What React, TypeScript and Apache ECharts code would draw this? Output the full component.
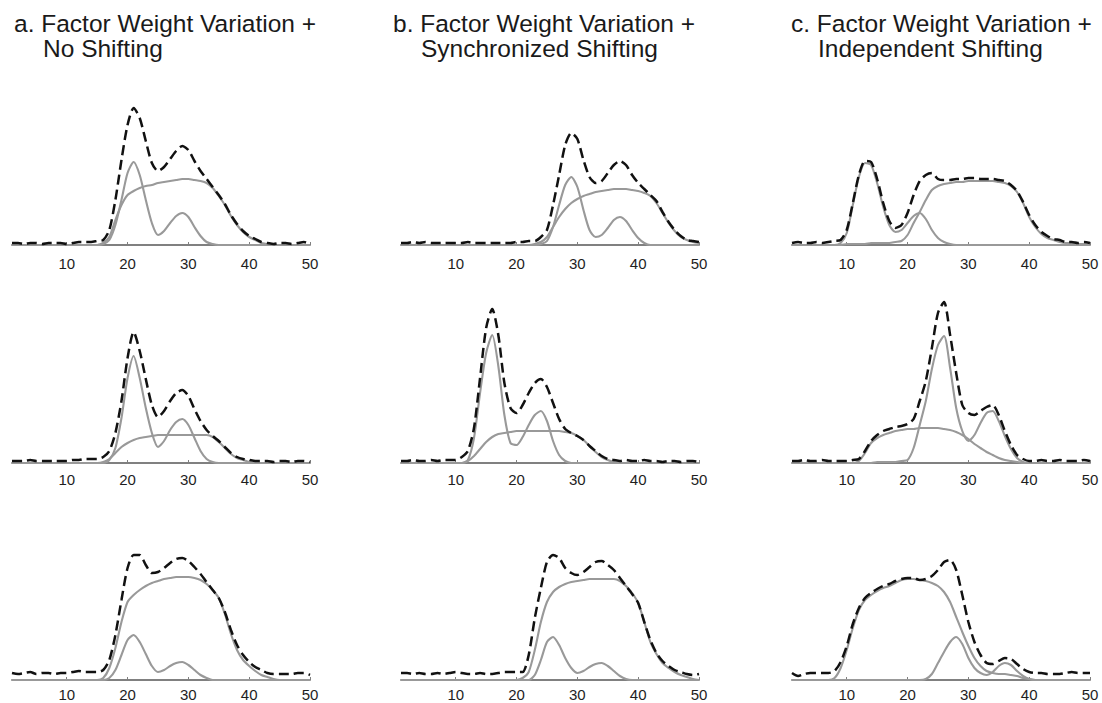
import React, { useEffect, useRef } from "react";
import * as echarts from "echarts";

// x positions (sample index) and labelled ticks
const xCategories = [1, 2, 3, 4, 5, 6, 7, 8, 9, 10, 11, 12, 13, 14, 15, 16, 17, 18, 19, 20, 21, 22, 23, 24, 25, 26, 27, 28, 29, 30, 31, 32, 33, 34, 35, 36, 37, 38, 39, 40, 41, 42, 43, 44, 45, 46, 47, 48, 49, 50];
const tickValues = [10, 20, 30, 40, 50];

// Column titles
const titleLine1 = ["a. Factor Weight Variation +", "b. Factor Weight Variation +", "c. Factor Weight Variation +"];
const titleLine2 = ["No Shifting", "Synchronized Shifting", "Independent Shifting"];

// ---- Column a: Factor weight variation + no shifting ----
const a1Peak = [0, 0, 0, 0, 0, 0, 0, 0, 0, 0, 0, 0, 0, 0, 0, 1, 5, 20, 45, 72, 83, 70, 45, 22, 10, 14, 22, 29, 32, 28, 18, 9, 3, 1, 0, 0, 0, 0, 0, 0, 0, 0, 0, 0, 0, 0, 0, 0, 0, 0];
const a1Plateau = [0, 0, 0, 0, 0, 0, 0, 0, 0, 0, 0, 0, 0, 0, 0, 2, 8, 25, 40, 50, 54, 57, 59, 60, 62, 63, 64, 65, 66, 66, 65, 64, 62, 57, 49, 40, 29, 20, 13, 8, 5, 2, 1, 0, 0, 0, 0, 0, 0, 0];
const a1Total = [2, 2, 1, 2, 2, 1, 2, 2, 2, 1, 2, 3, 3, 3, 4, 5, 15, 45, 85, 120, 137, 127, 104, 82, 74, 78, 86, 94, 99, 95, 84, 74, 66, 58, 50, 41, 30, 21, 14, 9, 6, 3, 2, 1, 2, 2, 1, 2, 3, 1];

const a2Peak = [0, 0, 0, 0, 0, 0, 0, 0, 0, 0, 0, 0, 0, 0, 0, 0, 3, 15, 45, 85, 107, 85, 55, 30, 16, 22, 33, 41, 44, 38, 25, 12, 4, 1, 0, 0, 0, 0, 0, 0, 0, 0, 0, 0, 0, 0, 0, 0, 0, 0];
const a2Plateau = [0, 0, 0, 0, 0, 0, 0, 0, 0, 0, 0, 0, 0, 0, 0, 1, 4, 10, 16, 20, 23, 25, 26, 27, 28, 28, 28, 28, 28, 28, 28, 28, 28, 26, 21, 15, 9, 5, 3, 1, 0, 0, 0, 0, 0, 0, 0, 0, 0, 0];
const a2Total = [2, 2, 2, 3, 2, 2, 2, 2, 2, 2, 3, 3, 4, 4, 4, 6, 12, 30, 62, 105, 131, 112, 84, 58, 46, 52, 62, 70, 73, 67, 54, 42, 33, 27, 22, 16, 10, 6, 4, 3, 2, 2, 2, 1, 2, 2, 1, 2, 2, 1];

const a3Peak = [0, 0, 0, 0, 0, 0, 0, 0, 0, 0, 0, 0, 0, 0, 0, 0, 2, 10, 25, 40, 45, 38, 26, 14, 8, 10, 14, 17, 18, 15, 10, 5, 2, 0, 0, 0, 0, 0, 0, 0, 0, 0, 0, 0, 0, 0, 0, 0, 0, 0];
const a3Plateau = [0, 0, 0, 0, 0, 0, 0, 0, 0, 0, 0, 0, 0, 0, 0, 2, 12, 32, 58, 78, 85, 90, 94, 97, 99, 101, 102, 103, 103, 103, 102, 100, 96, 90, 82, 66, 46, 30, 20, 14, 9, 5, 3, 1, 0, 0, 0, 0, 0, 0];
const a3Total = [7, 6, 7, 8, 6, 7, 7, 6, 7, 7, 8, 9, 8, 8, 8, 10, 20, 45, 80, 112, 125, 125, 115, 107, 108, 112, 117, 121, 122, 119, 113, 106, 98, 90, 82, 68, 50, 35, 25, 18, 13, 10, 7, 6, 6, 6, 6, 7, 7, 5];

// ---- Column b: Factor weight variation + synchronized shifting ----
const b1Peak = [0, 0, 0, 0, 0, 0, 0, 0, 0, 0, 0, 0, 0, 0, 0, 0, 0, 0, 0, 0, 0, 0, 0, 1, 4, 18, 40, 60, 68, 58, 35, 15, 8, 10, 17, 25, 28, 24, 15, 7, 2, 0, 0, 0, 0, 0, 0, 0, 0, 0];
const b1Plateau = [0, 0, 0, 0, 0, 0, 0, 0, 0, 0, 0, 0, 0, 0, 0, 0, 0, 0, 0, 0, 0, 0, 1, 3, 8, 18, 28, 36, 42, 46, 49, 51, 53, 54, 55, 56, 56, 56, 55, 54, 52, 49, 42, 32, 22, 14, 8, 5, 3, 2];
const b1Total = [2, 2, 3, 2, 3, 2, 2, 2, 2, 2, 2, 3, 2, 2, 2, 2, 2, 2, 2, 3, 3, 4, 4, 8, 15, 40, 70, 100, 112, 106, 85, 68, 62, 64, 72, 80, 84, 80, 70, 62, 56, 50, 44, 33, 23, 15, 9, 5, 4, 3];

const b2Peak = [0, 0, 0, 0, 0, 0, 0, 0, 0, 0, 0, 3, 25, 70, 110, 128, 97, 48, 20, 18, 26, 38, 48, 52, 42, 22, 8, 2, 0, 0, 0, 0, 0, 0, 0, 0, 0, 0, 0, 0, 0, 0, 0, 0, 0, 0, 0, 0, 0, 0];
const b2Plateau = [0, 0, 0, 0, 0, 0, 0, 0, 0, 0, 0, 2, 7, 14, 21, 26, 29, 30, 31, 32, 32, 32, 32, 32, 32, 32, 32, 31, 30, 27, 23, 17, 11, 6, 3, 1, 0, 0, 0, 0, 0, 0, 0, 0, 0, 0, 0, 0, 0, 0];
const b2Total = [2, 2, 3, 2, 2, 3, 2, 3, 3, 3, 6, 12, 35, 85, 135, 154, 128, 80, 55, 50, 58, 70, 80, 84, 76, 60, 44, 34, 30, 27, 23, 17, 12, 7, 4, 3, 2, 3, 2, 2, 3, 2, 2, 1, 2, 2, 1, 2, 2, 1];

const b3Peak = [0, 0, 0, 0, 0, 0, 0, 0, 0, 0, 0, 0, 0, 0, 0, 0, 0, 0, 0, 0, 0, 0, 5, 20, 38, 43, 35, 22, 12, 7, 9, 13, 16, 17, 14, 9, 4, 1, 0, 0, 0, 0, 0, 0, 0, 0, 0, 0, 0, 0];
const b3Plateau = [0, 0, 0, 0, 0, 0, 0, 0, 0, 0, 0, 0, 0, 0, 0, 0, 0, 0, 0, 0, 2, 8, 30, 58, 78, 88, 93, 96, 98, 99, 100, 101, 101, 101, 101, 101, 99, 94, 87, 77, 58, 38, 26, 17, 12, 8, 5, 3, 1, 0];
const b3Total = [7, 7, 6, 7, 6, 6, 7, 6, 7, 8, 7, 6, 6, 7, 6, 6, 7, 8, 8, 8, 8, 25, 62, 92, 118, 125, 122, 112, 107, 105, 108, 113, 118, 119, 115, 110, 102, 94, 86, 77, 58, 40, 27, 19, 14, 10, 8, 6, 5, 6];

// ---- Column c: Factor weight variation + independent shifting ----
const c1Peak = [0, 0, 0, 0, 0, 0, 0, 0, 2, 12, 40, 68, 82, 80, 62, 38, 20, 13, 15, 22, 29, 32, 26, 15, 7, 3, 1, 0, 0, 0, 0, 0, 0, 0, 0, 0, 0, 0, 0, 0, 0, 0, 0, 0, 0, 0, 0, 0, 0, 0];
const c1Plateau = [0, 0, 0, 0, 0, 0, 0, 0, 0, 1, 1, 1, 1, 2, 2, 2, 2, 3, 4, 10, 22, 33, 45, 55, 59, 61, 62, 63, 63, 64, 64, 64, 64, 64, 63, 62, 59, 53, 42, 28, 18, 11, 7, 5, 3, 2, 2, 1, 1, 0];
const c1Total = [2, 3, 2, 2, 3, 2, 3, 4, 5, 15, 42, 70, 84, 83, 66, 42, 24, 17, 20, 32, 50, 64, 70, 72, 66, 65, 65, 66, 66, 67, 67, 66, 66, 66, 65, 64, 60, 54, 43, 30, 20, 13, 9, 6, 5, 3, 3, 2, 3, 2];

const c2Peak = [0, 0, 0, 0, 0, 0, 0, 0, 0, 0, 0, 0, 0, 0, 1, 1, 1, 1, 2, 3, 15, 38, 62, 94, 118, 127, 95, 55, 32, 22, 28, 40, 50, 52, 42, 27, 14, 5, 1, 0, 0, 0, 0, 0, 0, 0, 0, 0, 0, 0];
const c2Plateau = [0, 0, 0, 0, 0, 0, 0, 0, 0, 0, 0, 2, 10, 20, 25, 28, 30, 32, 33, 34, 34, 35, 35, 35, 35, 34, 33, 31, 28, 24, 19, 15, 11, 8, 5, 3, 2, 1, 0, 0, 0, 0, 0, 0, 0, 0, 0, 0, 0, 0];
const c2Total = [2, 2, 3, 2, 2, 3, 2, 2, 2, 2, 3, 4, 12, 22, 28, 32, 34, 36, 37, 39, 44, 62, 82, 115, 150, 161, 128, 90, 58, 50, 48, 52, 56, 58, 48, 32, 18, 8, 4, 2, 2, 3, 2, 2, 3, 2, 2, 2, 3, 2];

const c3Peak = [0, 0, 0, 0, 0, 0, 0, 0, 0, 0, 0, 0, 0, 0, 0, 0, 0, 0, 0, 0, 0, 0, 1, 6, 17, 28, 38, 43, 36, 22, 12, 7, 5, 8, 14, 17, 15, 9, 4, 1, 0, 0, 0, 0, 0, 0, 0, 0, 0, 0];
const c3Plateau = [0, 0, 0, 0, 0, 0, 0, 2, 12, 30, 52, 70, 80, 85, 89, 92, 94, 97, 100, 101, 101, 100, 99, 97, 94, 88, 78, 63, 48, 34, 22, 14, 9, 7, 6, 6, 5, 4, 2, 1, 0, 0, 0, 0, 0, 0, 0, 0, 0, 0];
const c3Total = [7, 4, 6, 7, 7, 7, 7, 9, 18, 34, 56, 72, 82, 87, 91, 94, 96, 99, 101, 102, 102, 100, 101, 104, 110, 118, 120, 110, 85, 58, 38, 25, 17, 16, 19, 22, 21, 16, 11, 8, 7, 7, 6, 6, 6, 7, 8, 7, 7, 7];

// panels listed row by row (row 1: a1,b1,c1 ...)
const panelData = [
  [a1Peak, a1Plateau, a1Total], [b1Peak, b1Plateau, b1Total], [c1Peak, c1Plateau, c1Total],
  [a2Peak, a2Plateau, a2Total], [b2Peak, b2Plateau, b2Total], [c2Peak, c2Plateau, c2Total],
  [a3Peak, a3Plateau, a3Total], [b3Peak, b3Plateau, b3Total], [c3Peak, c3Plateau, c3Total],
];

const Y_MAX = 170;

// layout (pixels)
const colLeft = [12, 401, 792];
const colTitleX = [14, 393, 791];
const colTitleIndentX = [43, 421, 818];
const rowAxisY = [245, 463, 680];
const rowLabelMargin = [11, 9, 7];
const PANEL_W = 298;
const PANEL_H = 170;
const TITLE_SIZE = 24.5;
const TITLE_Y = [23, 48];

const FONT = "'Liberation Sans', Arial, Helvetica, sans-serif";

export default function App() {
  const ref = useRef<HTMLDivElement>(null);

  useEffect(() => {
    if (!ref.current) return;
    const chart = echarts.init(ref.current, null, { renderer: "svg" });

    const isTick = (_idx: number, val: any) => tickValues.includes(Number(val));

    const grids: any[] = [];
    const xAxes: any[] = [];
    const yAxes: any[] = [];
    const series: any[] = [];

    panelData.forEach((lines, i) => {
      const r = Math.floor(i / 3);
      const c = i % 3;
      grids.push({
        left: colLeft[c],
        top: rowAxisY[r] - PANEL_H,
        width: PANEL_W,
        height: PANEL_H,
        containLabel: false,
      });
      xAxes.push({
        gridIndex: i,
        type: "category",
        data: xCategories,
        boundaryGap: false,
        axisLine: { show: true, lineStyle: { color: "#808080", width: 1.8 } },
        axisTick: {
          show: true,
          inside: true,
          length: 3,
          interval: isTick,
          lineStyle: { color: "#808080", width: 1 },
        },
        axisLabel: {
          interval: isTick,
          margin: rowLabelMargin[r],
          fontFamily: FONT,
          fontSize: 15,
          color: "#1e1e1e",
        },
        splitLine: { show: false },
      });
      yAxes.push({ gridIndex: i, type: "value", min: 0, max: Y_MAX, show: false });

      const [peak, plateau, total] = lines;
      series.push(
        {
          type: "line",
          xAxisIndex: i,
          yAxisIndex: i,
          data: plateau,
          symbol: "none",
          silent: true,
          smooth: 0.25,
          lineStyle: { color: "#999999", width: 2.1 },
          z: 2,
        },
        {
          type: "line",
          xAxisIndex: i,
          yAxisIndex: i,
          data: peak,
          symbol: "none",
          silent: true,
          smooth: 0.25,
          lineStyle: { color: "#999999", width: 2.1 },
          z: 2,
        },
        {
          type: "line",
          xAxisIndex: i,
          yAxisIndex: i,
          data: total,
          symbol: "none",
          silent: true,
          smooth: 0.25,
          lineStyle: { color: "#111111", width: 2.5, type: [10, 5] },
          z: 3,
        }
      );
    });

    const graphics: any[] = [];
    for (let c = 0; c < 3; c++) {
      graphics.push({
        type: "text",
        x: colTitleX[c],
        y: TITLE_Y[0],
        style: {
          text: titleLine1[c],
          font: `${TITLE_SIZE}px ${FONT}`,
          lineHeight: 22,
          fill: "#1a1a1a",
          textVerticalAlign: "middle",
        },
      });
      graphics.push({
        type: "text",
        x: colTitleIndentX[c],
        y: TITLE_Y[1],
        style: {
          text: titleLine2[c],
          font: `${TITLE_SIZE}px ${FONT}`,
          lineHeight: 22,
          fill: "#1a1a1a",
          textVerticalAlign: "middle",
        },
      });
    }

    chart.setOption({
      animation: false,
      backgroundColor: "#ffffff",
      grid: grids,
      xAxis: xAxes,
      yAxis: yAxes,
      series,
      graphic: graphics,
    });

    return () => {
      chart.dispose();
    };
  }, []);

  return (
    <div
      ref={ref}
      style={{
        position: "fixed",
        left: 0,
        top: 0,
        width: 1102,
        height: 703,
        background: "#ffffff",
      }}
    />
  );
}
